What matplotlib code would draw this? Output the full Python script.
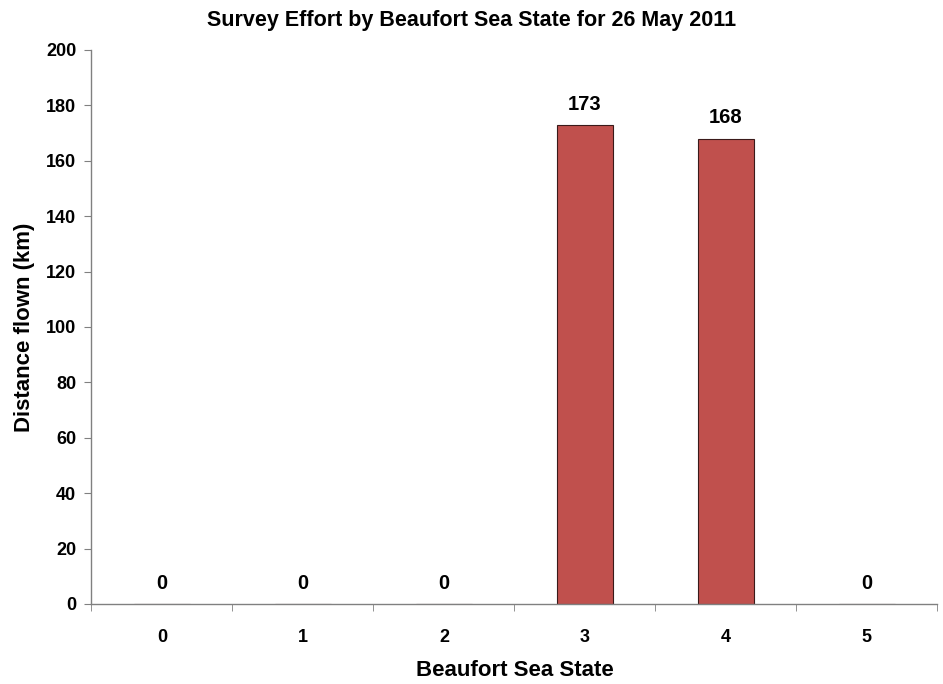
import numpy as np
import matplotlib.pyplot as plt

# data
sea_states = ['0', '1', '2', '3', '4', '5']
distance_km = [0, 0, 0, 173, 168, 0]

plt.rcParams['font.family'] = ['Liberation Sans', 'DejaVu Sans']
plt.rcParams['font.weight'] = 'bold'

fig = plt.figure(figsize=(9.43, 6.84), dpi=100)
ax = fig.add_axes([0.097, 0.117, 0.897, 0.810])

x = np.arange(len(sea_states))
ax.bar(x, distance_km, width=0.4, color='#C0504D', edgecolor='#3a1a1a', linewidth=0.8)

# value labels
for xi, v in zip(x, distance_km):
    ax.annotate(str(v), (xi, v), xytext=(0, 8), textcoords='offset points',
                ha='center', va='bottom', fontsize=14.5, fontweight='bold')

ax.set_xlim(-0.5, len(sea_states) - 0.5)
ax.set_ylim(0, 200)
ax.set_yticks(range(0, 201, 20))
ax.set_xticks(x)
ax.set_xticklabels(sea_states)
ax.set_xticks(np.arange(-0.5, len(sea_states), 1), minor=True)
ax.tick_params(axis='x', which='major', length=0, pad=18, labelsize=13)
ax.tick_params(axis='x', which='minor', length=5, color='#808080', direction='out')
ax.tick_params(axis='y', length=5, color='#808080', labelsize=13, pad=6)

for s in ['top', 'right']:
    ax.spines[s].set_visible(False)
for s in ['left', 'bottom']:
    ax.spines[s].set_color('#808080')
    ax.spines[s].set_linewidth(1.0)

ax.set_xlabel('Beaufort Sea State', fontsize=16, fontweight='bold', labelpad=10)
ax.set_ylabel('Distance flown (km)', fontsize=16, fontweight='bold', labelpad=8)
fig.suptitle('Survey Effort by Beaufort Sea State for 26 May 2011', fontsize=15.5,
             fontweight='bold', y=0.985)

fig.savefig('out.png', dpi=100)
